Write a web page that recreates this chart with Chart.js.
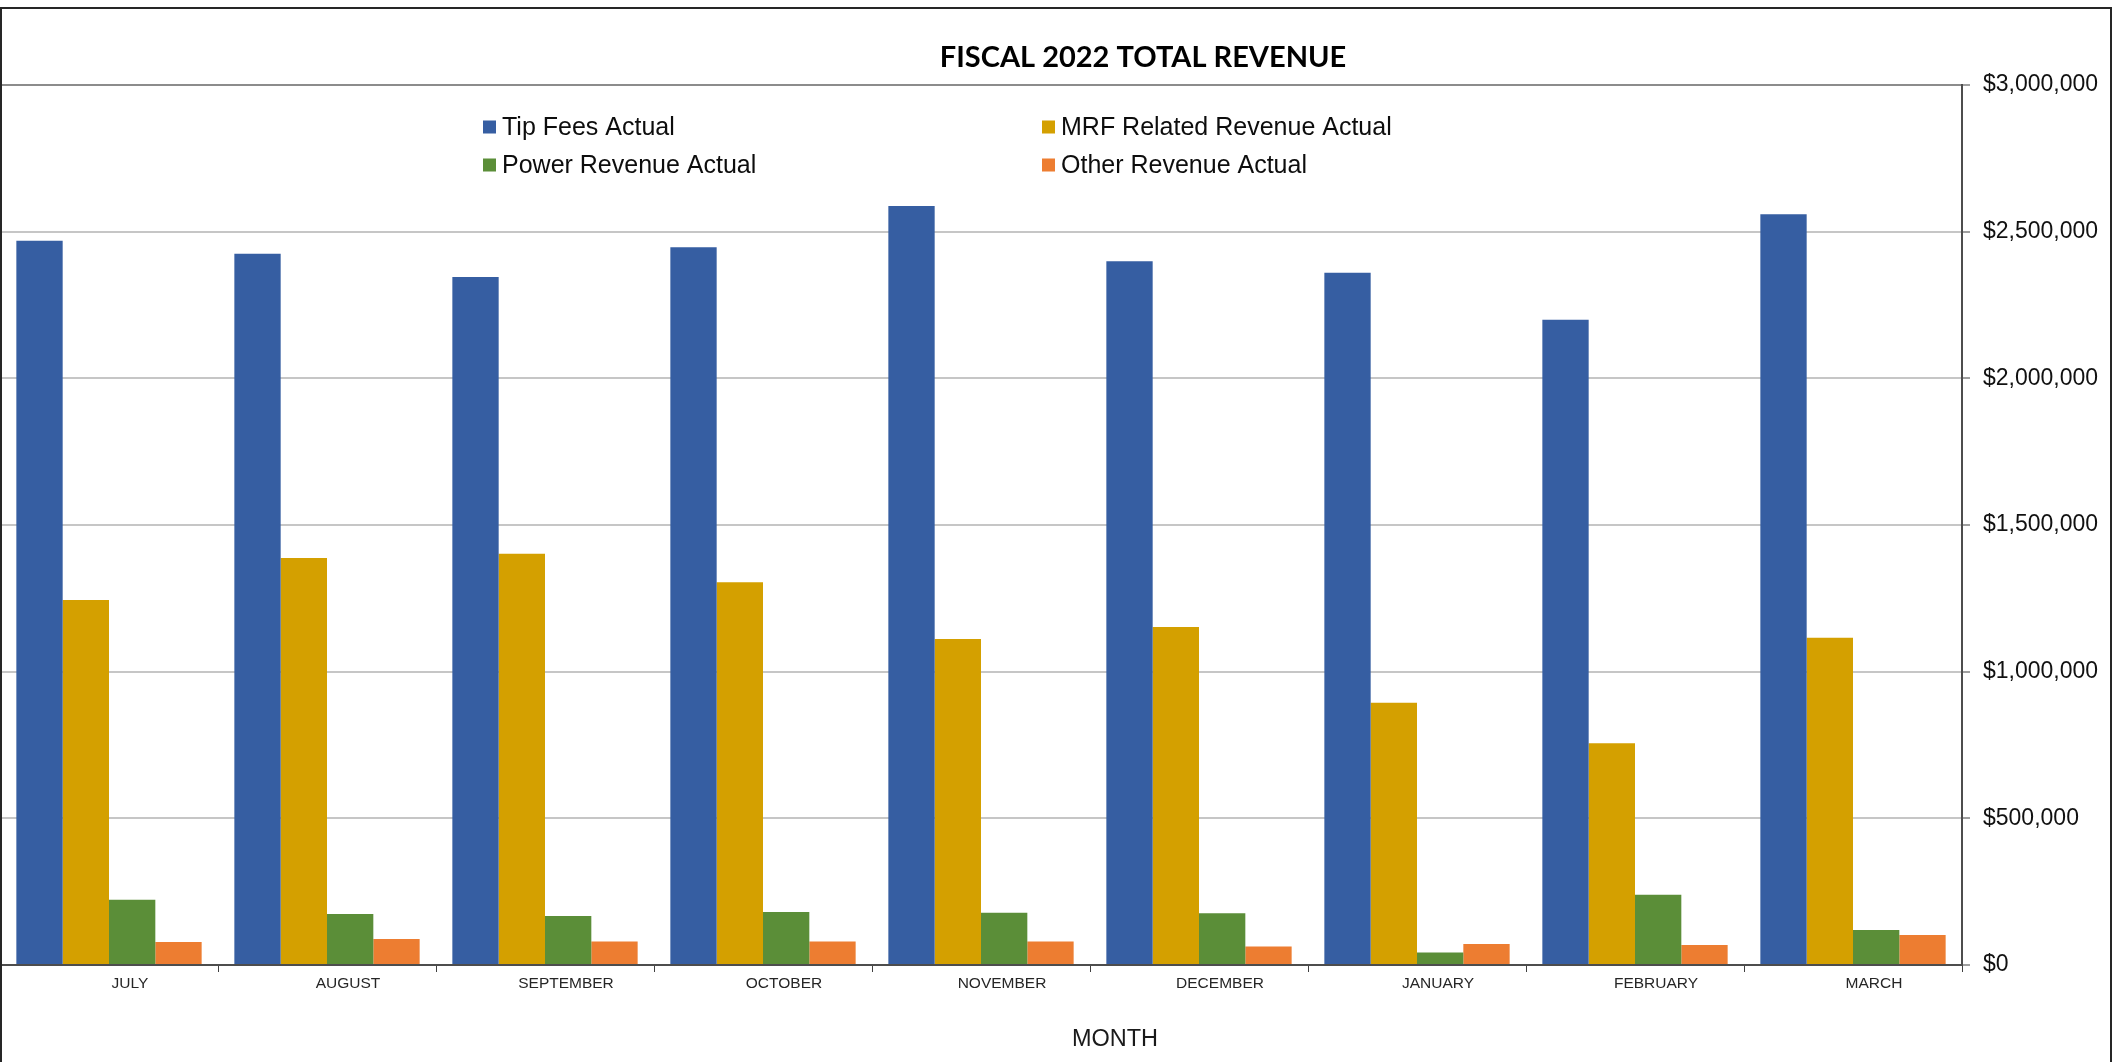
<!DOCTYPE html>
<html>
<head>
<meta charset="utf-8">
<title>Fiscal 2022 Total Revenue</title>
<script src="https://cdn.jsdelivr.net/npm/chart.js@4.4.1/dist/chart.umd.min.js"></script>
<style>
  html, body { margin: 0; padding: 0; background: #ffffff; }
  canvas { display: block; }
</style>
</head>
<body>
<canvas id="revenueChart" width="2112" height="1062"></canvas>
<script>
// Months of the fiscal year shown on the category axis
const months = ['JULY', 'AUGUST', 'SEPTEMBER', 'OCTOBER', 'NOVEMBER', 'DECEMBER', 'JANUARY', 'FEBRUARY', 'MARCH'];

// Monthly revenue by source (USD)
const tipFeesActual = [2469000, 2425000, 2345500, 2446700, 2587500, 2399000, 2360000, 2200000, 2559000];
const mrfRevenueActual = [1244400, 1387600, 1402300, 1304700, 1111400, 1152300, 894300, 755900, 1115900];
const powerRevenueActual = [222600, 173900, 167000, 180700, 178300, 176000, 43000, 239700, 119300];
const otherRevenueActual = [78400, 88600, 80500, 80500, 80500, 63400, 71600, 68200, 102300];

const seriesNames = ['Tip Fees Actual', 'MRF Related Revenue Actual', 'Power Revenue Actual', 'Other Revenue Actual'];
const seriesColors = ['#365EA2', '#D4A000', '#5B8E38', '#ED7D31'];

// Value axis
const yMin = 0;
const yMax = 3000000;
const yStep = 500000;

const chartTitle = 'FISCAL 2022 TOTAL REVENUE';
const xAxisTitle = 'MONTH';

const sansFamily = '"Liberation Sans", Arial, sans-serif';
const titleFamily = 'Lato, "Open Sans", sans-serif';

// Title, two-column legend, axis title and the outer frame
const decorations = {
  id: 'decorations',
  afterDraw(chart) {
    const ctx = chart.ctx;
    ctx.save();

    // outer frame
    ctx.strokeStyle = '#262626';
    ctx.lineWidth = 2;
    ctx.strokeRect(1, 8, chart.width - 2, chart.height + 20);

    // title
    ctx.fillStyle = '#000000';
    ctx.font = 'bold 29px ' + titleFamily;
    ctx.textAlign = 'center';
    ctx.textBaseline = 'middle';
    ctx.fillText(chartTitle, 1143, 58);

    // legend in two columns, two rows
    const colX = [483, 1042];
    const rowY = [127, 165];
    const box = 13;
    ctx.font = '25px ' + sansFamily;
    ctx.textAlign = 'left';
    chart.data.datasets.forEach((ds, i) => {
      const x = colX[i % 2];
      const y = rowY[Math.floor(i / 2)];
      ctx.fillStyle = ds.backgroundColor;
      ctx.fillRect(x, y - box / 2, box, box);
      ctx.fillStyle = '#0d0d0d';
      ctx.fillText(ds.label, x + box + 6, y + 1);
    });

    // x axis title
    ctx.font = '23.5px ' + sansFamily;
    ctx.textAlign = 'center';
    ctx.fillStyle = '#1a1a1a';
    ctx.fillText(xAxisTitle, 1115, 1040);

    ctx.restore();
  }
};

const seriesValues = [tipFeesActual, mrfRevenueActual, powerRevenueActual, otherRevenueActual];

new Chart(document.getElementById('revenueChart'), {
  type: 'bar',
  data: {
    labels: months,
    datasets: seriesNames.map((name, i) => ({
      label: name,
      data: seriesValues[i],
      backgroundColor: seriesColors[i],
      borderWidth: 0,
      categoryPercentage: 0.85,
      barPercentage: 1.0
    }))
  },
  options: {
    responsive: false,
    animation: false,
    layout: { padding: { top: 85, left: 0, right: 0, bottom: 0 } },
    plugins: {
      legend: { display: false },
      title: { display: false },
      tooltip: { enabled: false }
    },
    scales: {
      x: {
        type: 'category',
        offset: true,
        grid: {
          offset: true,
          drawOnChartArea: false,
          drawTicks: true,
          tickLength: 7,
          color: '#404040',
          lineWidth: 1
        },
        border: { display: true, color: '#4d4d4d', width: 2 },
        ticks: {
          font: { family: sansFamily, size: 15.5 },
          color: '#262626',
          padding: 2,
          labelOffset: 21,
          maxRotation: 0,
          autoSkip: false
        },
        afterFit(scale) { scale.height = 97; }
      },
      y: {
        position: 'right',
        min: yMin,
        max: yMax,
        ticks: {
          stepSize: yStep,
          font: { family: sansFamily, size: 23 },
          color: '#111111',
          padding: 13,
          callback: v => '$' + Number(v).toLocaleString('en-US')
        },
        grid: {
          color: ctx => (ctx.tick && ctx.tick.value === yMax) ? '#8c8c8c' : '#c6c6c6',
          lineWidth: 2,
          drawTicks: true,
          tickLength: 8,
          tickColor: '#404040',
          tickWidth: 1
        },
        border: { display: true, color: '#4d4d4d', width: 2 },
        afterFit(scale) { scale.width = 150; }
      }
    }
  },
  plugins: [decorations]
});
</script>
</body>
</html>
